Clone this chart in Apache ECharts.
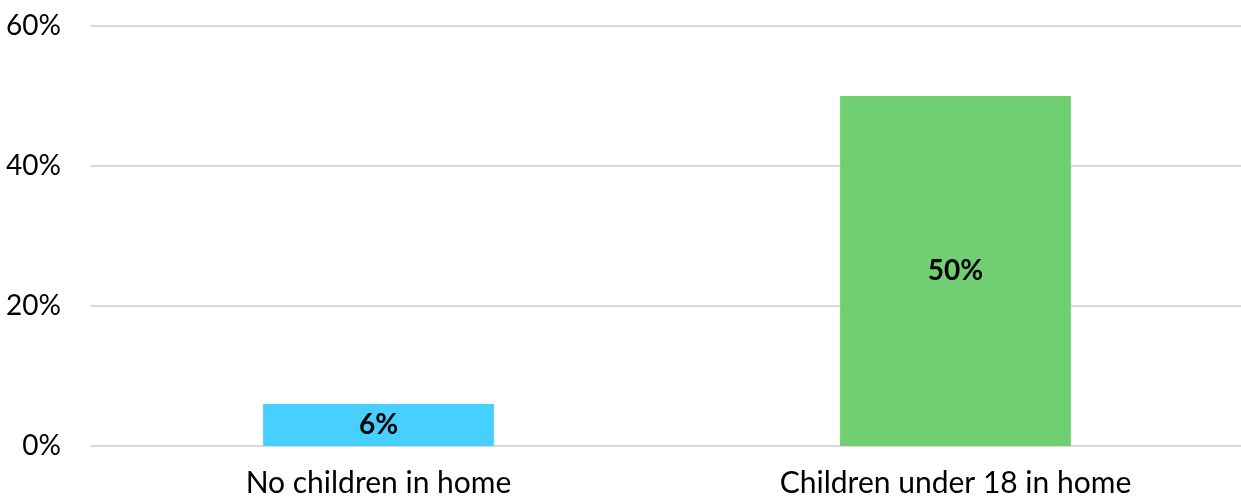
<!DOCTYPE html>
<html>
<head>
<meta charset="utf-8">
<script src="https://cdn.jsdelivr.net/npm/echarts@6/dist/echarts.min.js"></script>
<style>html,body{margin:0;padding:0;background:#fff}#c{width:1241px;height:498px}</style>
</head>
<body>
<div id="c"></div>
<script>
const categories = ["No children in home", "Children under 18 in home"];
const values = [6, 50];
const barColors = ["#47CFFF", "#70CF70"];

const chart = echarts.init(document.getElementById('c'), null, {renderer: 'canvas'});
chart.setOption({
  animation: false,
  grid: {left: 90, right: -3, top: 26, bottom: 52, containLabel: false, outerBoundsMode: 'none'},
  xAxis: {
    type: 'category',
    data: categories,
    axisLine: {show: false},
    axisTick: {show: false},
    axisLabel: {color: '#000', fontFamily: 'Lato', fontSize: 30, margin: 22}
  },
  yAxis: {
    type: 'value',
    min: 0, max: 60, interval: 20,
    axisLabel: {formatter: '{value}%', color: '#000', fontFamily: 'Lato', fontSize: 28, margin: 29},
    splitLine: {lineStyle: {color: '#d9d9d9', width: 2}},
    axisLine: {show: false},
    axisTick: {show: false}
  },
  series: [{
    type: 'bar',
    data: values.map((v, i) => ({value: v, itemStyle: {color: barColors[i]}})),
    barWidth: '40%',
    label: {show: true, position: 'inside', formatter: '{c}%', color: '#000', fontWeight: 'bold', fontFamily: 'Lato', fontSize: 28}
  }]
});
</script>
</body>
</html>
